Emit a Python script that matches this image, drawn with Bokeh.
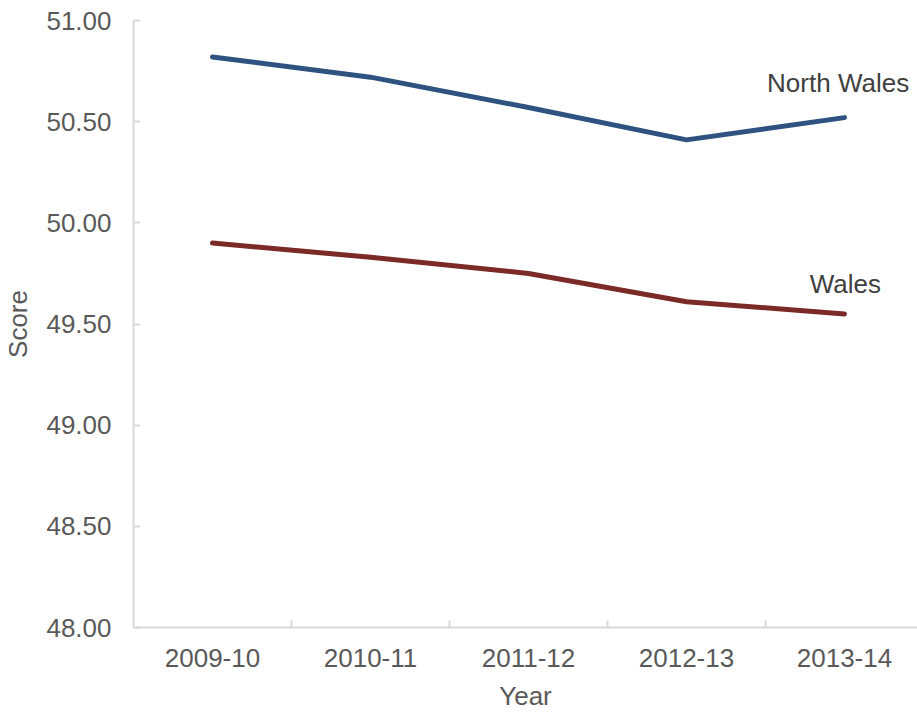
from bokeh.plotting import figure
from bokeh.models import FixedTicker, NumeralTickFormatter, Range1d, ColumnDataSource
from bokeh.core.properties import value
from bokeh.embed import file_html
from bokeh.resources import INLINE

years = ["2009-10", "2010-11", "2011-12", "2012-13", "2013-14"]
north_wales = [50.82, 50.72, 50.57, 50.41, 50.52]
wales = [49.90, 49.83, 49.75, 49.61, 49.55]
y_ticks = [48.0, 48.5, 49.0, 49.5, 50.0, 50.5, 51.0]
series_labels = ["North Wales", "Wales"]

FONT = "Liberation Sans"
xs = list(range(len(years)))

p = figure(width=917, height=713, output_backend="svg", toolbar_location=None,
           x_range=Range1d(-0.5, 4.462), y_range=Range1d(48, 51),
           min_border_left=130, min_border_right=0, min_border_top=20, min_border_bottom=84)
p.outline_line_color = None
p.xgrid.grid_line_color = None
p.ygrid.grid_line_color = None
p.background_fill_color = "white"
p.border_fill_color = "white"

p.line(xs, north_wales, line_color="#2E5380", line_width=5, line_cap="round", line_join="round")
p.line(xs, wales, line_color="#7B2A27", line_width=5, line_cap="round", line_join="round")

lab = ColumnDataSource(dict(x=[3.51, 3.78], y=[50.69, 49.70], t=series_labels))
p.text(x="x", y="y", text="t", source=lab, text_font=value(FONT),
       text_font_size=value("26px"),
       text_color="#404040", text_align="left", text_baseline="middle")

# y axis
p.yaxis.ticker = FixedTicker(ticks=y_ticks)
p.yaxis.formatter = NumeralTickFormatter(format="0.00")
p.yaxis.axis_label = "Score"
p.yaxis.axis_line_color = "#D9D9D9"
p.yaxis.major_tick_line_color = "#D9D9D9"
p.yaxis.major_tick_in = 7
p.yaxis.major_tick_out = 0
p.yaxis.minor_tick_line_color = None
p.yaxis.major_label_standoff = 22
p.yaxis.axis_label_standoff = 10

# x axis
p.xaxis.ticker = FixedTicker(ticks=xs, minor_ticks=[0.5, 1.5, 2.5, 3.5])
p.xaxis.major_label_overrides = {i: y for i, y in enumerate(years)}
p.xaxis.axis_label = "Year"
p.xaxis.axis_line_color = "#D9D9D9"
p.xaxis.major_tick_line_color = None
p.xaxis.minor_tick_line_color = "#D9D9D9"
p.xaxis.minor_tick_in = 7
p.xaxis.minor_tick_out = 0
p.xaxis.major_label_standoff = 15
p.xaxis.axis_label_standoff = 11

for ax in (p.xaxis, p.yaxis):
    ax.axis_line_width = 2
    ax.major_label_text_font = FONT
    ax.major_label_text_font_size = "26px"
    ax.major_label_text_color = "#595959"
    ax.axis_label_text_font = FONT
    ax.axis_label_text_font_size = "26px"
    ax.axis_label_text_font_style = "normal"
    ax.axis_label_text_color = "#595959"
p.yaxis.major_tick_line_width = 2
p.xaxis.minor_tick_line_width = 2

open("out.html", "w").write(file_html(p, INLINE))
